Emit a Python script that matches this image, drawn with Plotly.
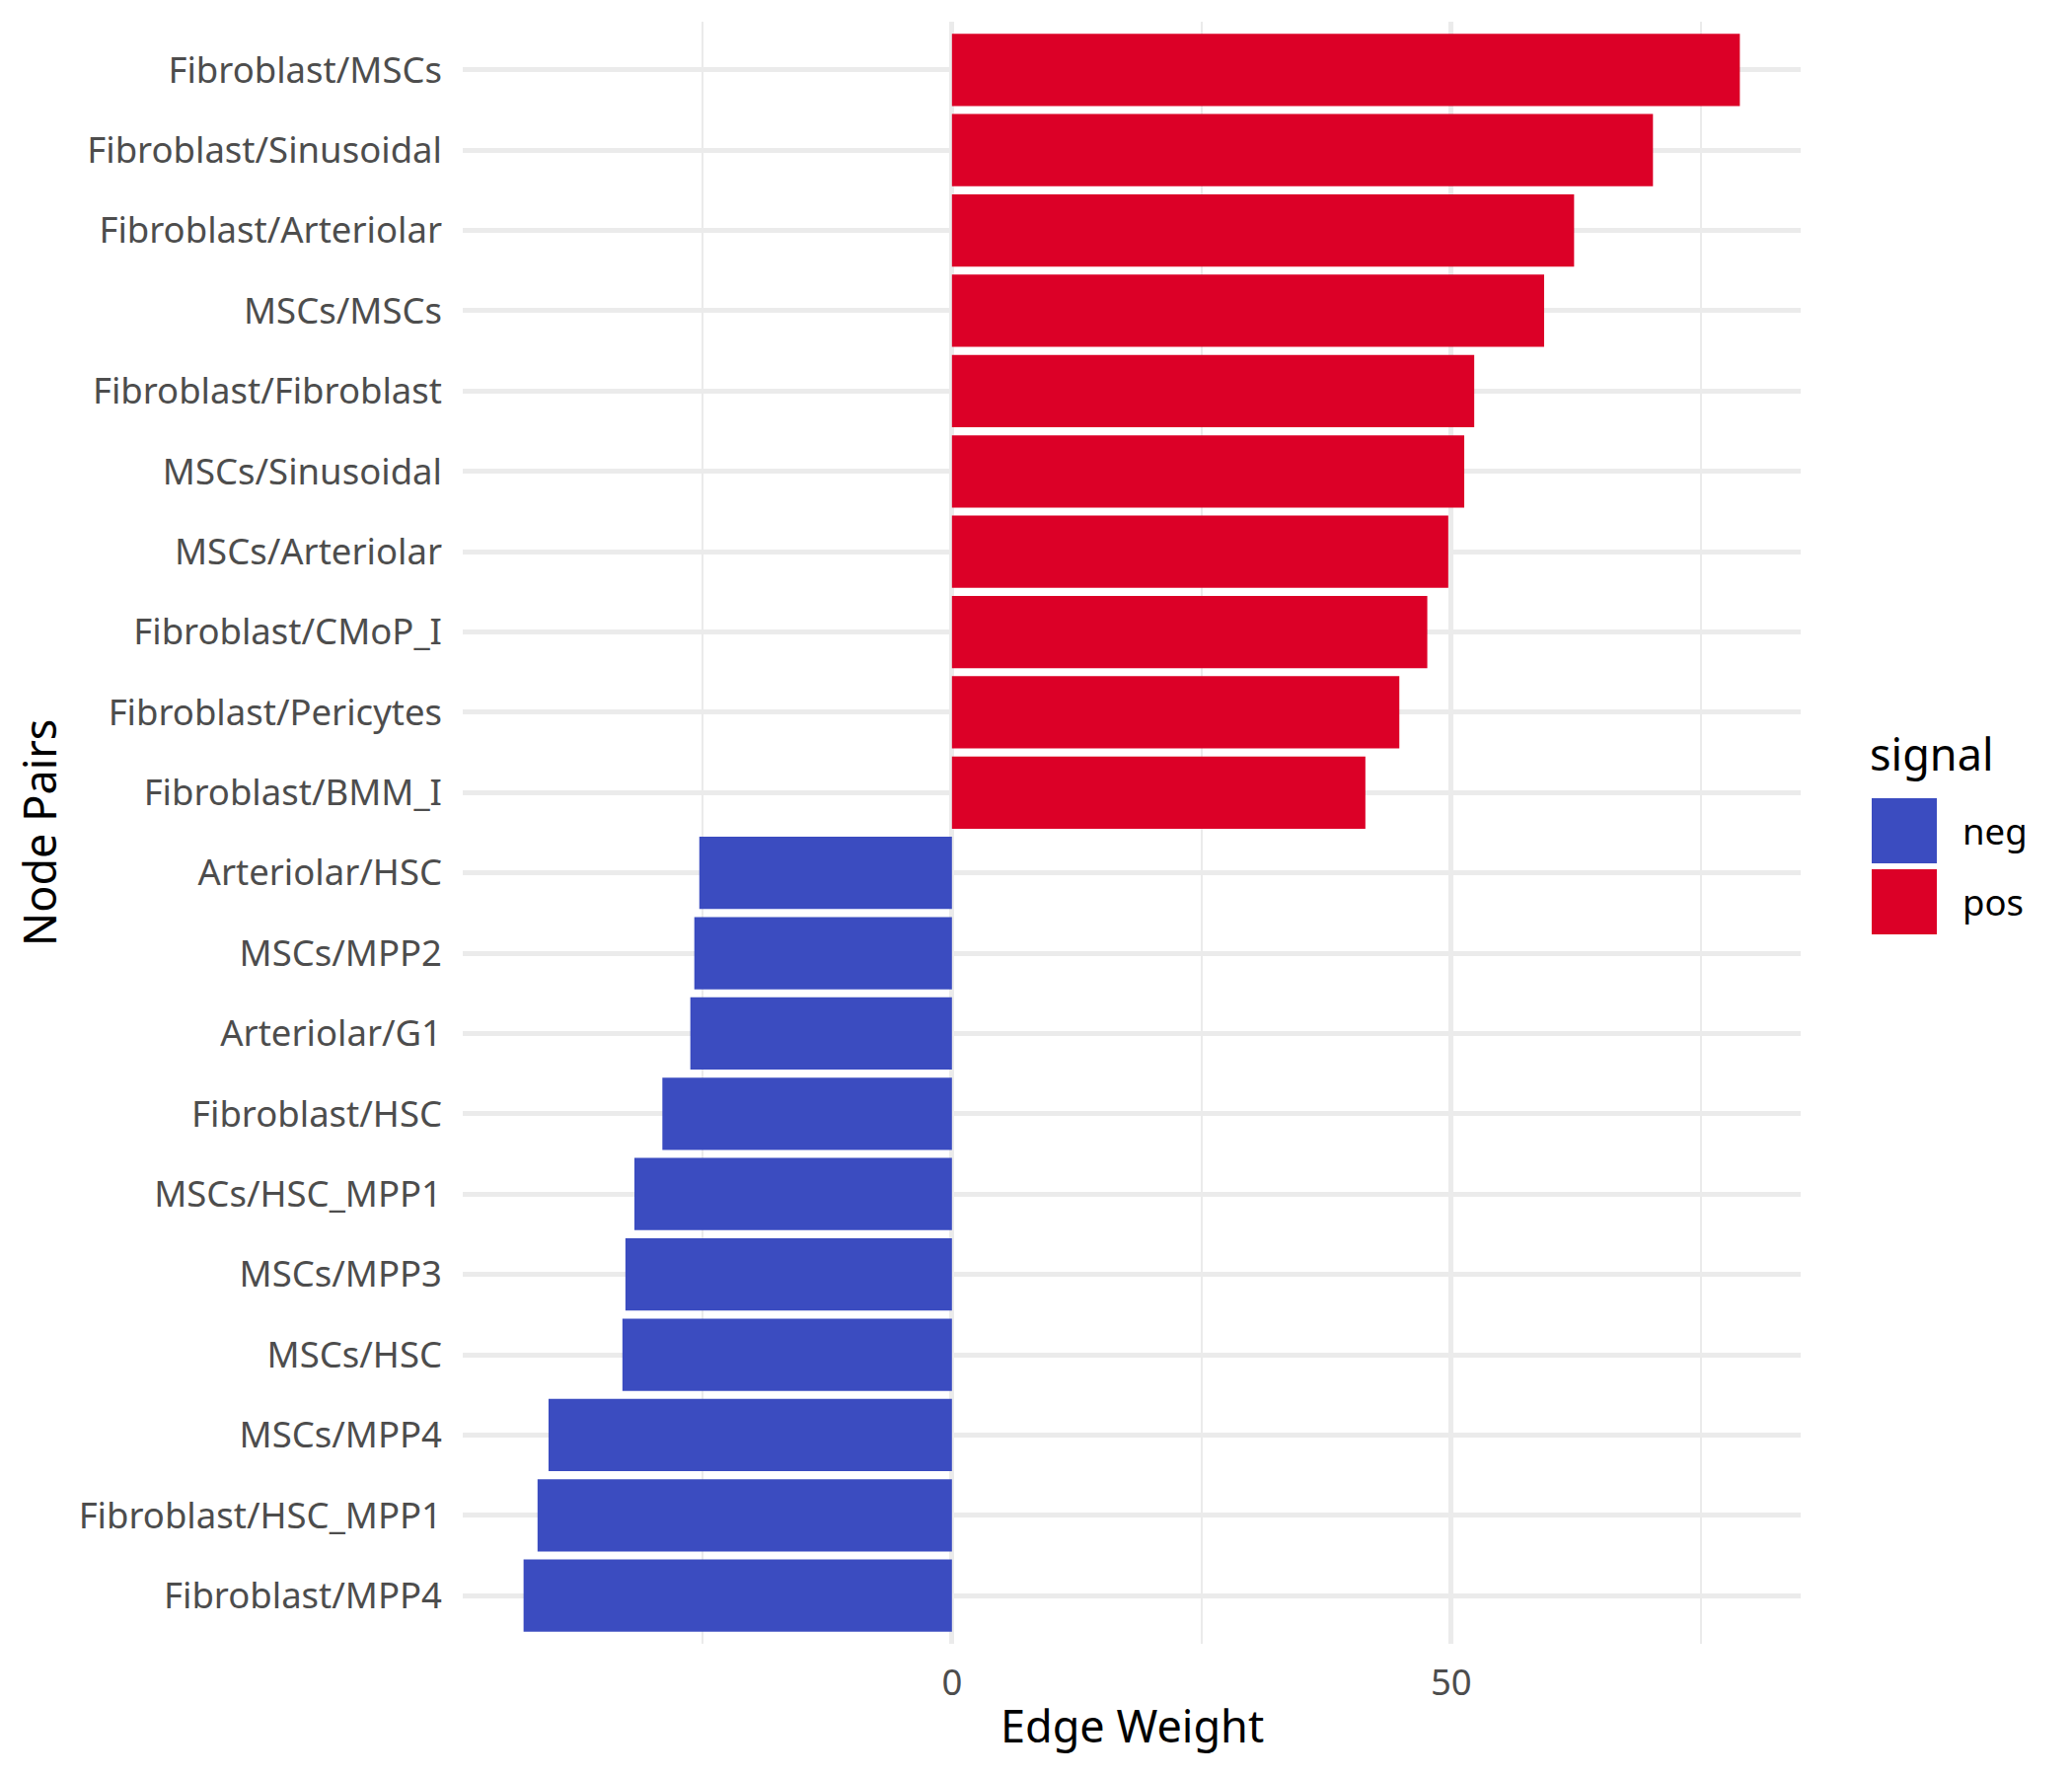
import plotly.graph_objects as go

# node pairs, top of chart first
pairs = ['Fibroblast/MSCs', 'Fibroblast/Sinusoidal', 'Fibroblast/Arteriolar',
         'MSCs/MSCs', 'Fibroblast/Fibroblast', 'MSCs/Sinusoidal',
         'MSCs/Arteriolar', 'Fibroblast/CMoP_I', 'Fibroblast/Pericytes',
         'Fibroblast/BMM_I', 'Arteriolar/HSC', 'MSCs/MPP2', 'Arteriolar/G1',
         'Fibroblast/HSC', 'MSCs/HSC_MPP1', 'MSCs/MPP3', 'MSCs/HSC',
         'MSCs/MPP4', 'Fibroblast/HSC_MPP1', 'Fibroblast/MPP4']
weights = [78.9, 70.2, 62.3, 59.3, 52.3, 51.3, 49.7, 47.6, 44.8, 41.4,
           -25.3, -25.8, -26.2, -29.0, -31.8, -32.7, -33.0, -40.4, -41.5, -42.9]
signal = ['pos' if w > 0 else 'neg' for w in weights]

colors = {'neg': '#3B4CC0', 'pos': '#DC0027'}

# page body adds ~8px offset, so shift margins to compensate
W, H = 2100, 1800
OFF = 8
L, T = 469 - OFF, 22 - OFF
pw, ph = 1356, 1644
R, B = W - L - pw, H - T - ph


def px(x):
    return (x - OFF - L) / pw


def py(y):
    return (H - B - (y - OFF)) / ph


fig = go.Figure()
for s in ['neg', 'pos']:
    fig.add_trace(go.Bar(
        x=[w for w, g in zip(weights, signal) if g == s],
        y=[p for p, g in zip(pairs, signal) if g == s],
        orientation='h', width=0.9, name=s,
        marker=dict(color=colors[s], line=dict(width=0)),
        showlegend=False))

lo, hi = min(weights), max(weights)
pad = (hi - lo) * 0.05

fig.update_layout(
    width=W, height=H,
    margin=dict(l=L, r=R, t=T, b=B, autoexpand=False),
    plot_bgcolor='white', paper_bgcolor='white',
    barmode='overlay',
    font=dict(family='Noto Sans', size=36.5, color='#4D4D4D'),
)

fig.update_xaxes(
    range=[lo - pad, hi + pad], dtick=50, tick0=0,
    showgrid=True, gridcolor='#EBEBEB', gridwidth=4.5,
    minor=dict(dtick=25, tick0=0, showgrid=True, gridcolor='#EBEBEB', gridwidth=2.3),
    zeroline=False, showline=False, ticks='',
    ticklabelstandoff=14,
    tickfont=dict(size=36.5, color='#4D4D4D'),
)
fig.update_yaxes(
    categoryorder='array', categoryarray=pairs[::-1],
    range=[-0.6, len(pairs) - 0.4],
    showgrid=True, gridcolor='#EBEBEB', gridwidth=4.5,
    zeroline=False, showline=False, ticks='',
    ticklabelstandoff=20,
    tickfont=dict(size=36.5, color='#4D4D4D'),
)

# axis titles
fig.add_annotation(text='Edge Weight', xref='paper', yref='paper',
                   x=0.5, y=py(1748), xanchor='center', yanchor='middle',
                   showarrow=False, font=dict(size=45, color='black'))
fig.add_annotation(text='Node Pairs', xref='paper', yref='paper',
                   x=px(39), y=0.5, xanchor='center', yanchor='middle',
                   textangle=-90, showarrow=False, font=dict(size=45, color='black'))

# legend (ggplot style keys)
fig.add_annotation(text='signal', xref='paper', yref='paper',
                   x=px(1893), y=py(763), xanchor='left', yanchor='middle',
                   showarrow=False, font=dict(size=45, color='black'))
key_tops = {'neg': 809, 'pos': 881}
for s, top in key_tops.items():
    fig.add_shape(type='rect', xref='paper', yref='paper',
                  x0=px(1897), x1=px(1963), y0=py(top), y1=py(top + 66),
                  fillcolor=colors[s], line=dict(width=0))
    fig.add_annotation(text=s, xref='paper', yref='paper',
                       x=px(1987), y=py(top + 33), xanchor='left', yanchor='middle',
                       showarrow=False, font=dict(size=36.5, color='black'))

fig.write_html('out.html')
